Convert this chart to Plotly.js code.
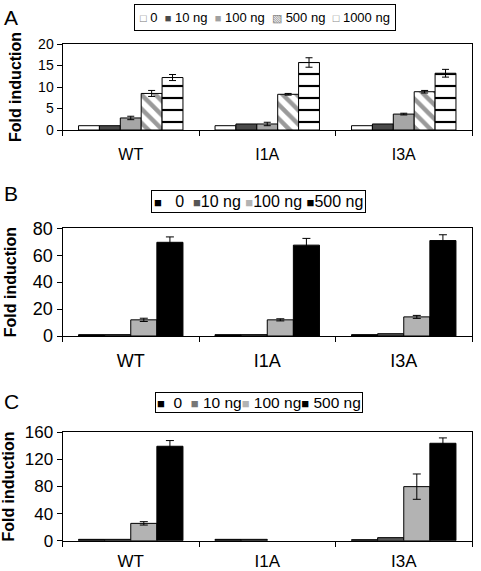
<!DOCTYPE html>
<html>
<head>
<meta charset="utf-8">
<script src="https://cdn.plot.ly/plotly-3.0.1.min.js"></script>
<style>html,body{margin:0;padding:0;background:#fff;}#chart{width:481px;height:571px;}</style>
</head>
<body>
<div id="chart"></div>
<script>
// ---- data ----
const categories = ['WT', 'I1A', 'I3A'];

// Panel A
const dosesA = ['0', '10 ng', '100 ng', '500 ng', '1000 ng'];
const A_0 = [1.0, 1.0, 1.0];
const A_10 = [1.0, 1.4, 1.4];
const A_100 = [2.8, 1.4, 3.7];
const A_100_err = [0.4, 0.4, 0.2];
const A_500 = [8.5, 8.3, 8.9];
const A_500_err = [0.7, 0.2, 0.3];
const A_1000 = [12.2, 15.7, 13.2];
const A_1000_err = [0.7, 1.1, 0.9];

// Panel B
const dosesB = ['0', '10 ng', '100 ng', '500 ng'];
const B_0 = [1.0, 1.0, 1.0];
const B_10 = [1.0, 1.0, 1.7];
const B_100 = [12.0, 12.0, 14.2];
const B_100_err = [1.2, 0.8, 1.1];
const B_500 = [69.6, 67.5, 70.9];
const B_500_err = [4.0, 5.0, 4.3];

// Panel C
const dosesC = ['0', '10 ng', '100 ng', '500 ng'];
const C_0 = [2.0, 2.0, 1.5];
const C_10 = [2.0, 2.0, 4.5];
const C_100 = [25.6, null, 79.8];
const C_100_err = [2.5, null, 18.7];
const C_500 = [139.4, null, 143.8];
const C_500_err = [8.4, null, 7.9];

const FONT = 'Liberation Sans, Arial, sans-serif';
const W = 481, H = 571;

function errY(arr, w) {
  return {type: 'data', array: arr, visible: true, color: '#000', thickness: 1, width: w};
}
function bar(name, y, xa, ya, color, extra) {
  const t = {
    type: 'bar', name: name, x: categories, y: y, xaxis: xa, yaxis: ya,
    showlegend: false,
    marker: {color: color, line: {color: '#000', width: 1}},
    hoverinfo: 'skip'
  };
  return Object.assign(t, extra || {});
}

const traces = [
  // A
  bar(dosesA[0], A_0, 'x', 'y', '#ffffff'),
  bar(dosesA[1], A_10, 'x', 'y', '#4a4a4a'),
  bar(dosesA[2], A_100, 'x', 'y', '#a6a6a6', {error_y: errY(A_100_err, 3.5)}),
  bar(dosesA[3], A_500, 'x', 'y', '#ffffff', {
    marker: {color: '#ffffff', line: {color: '#000', width: 1},
      pattern: {shape: '\\', fgcolor: '#9a9a9a', bgcolor: '#ffffff', size: 10, solidity: 0.45}},
    error_y: errY(A_500_err, 3.5)}),
  bar(dosesA[4], A_1000, 'x', 'y', '#ffffff', {
    marker: {color: '#ffffff', line: {color: '#000', width: 1},
      pattern: {shape: '-', fgcolor: '#000000', bgcolor: '#ffffff', size: 12, solidity: 0.18}},
    error_y: errY(A_1000_err, 3.5)}),
  // B
  bar(dosesB[0], B_0, 'x2', 'y2', '#000000'),
  bar(dosesB[1], B_10, 'x2', 'y2', '#555555'),
  bar(dosesB[2], B_100, 'x2', 'y2', '#b3b3b3', {error_y: errY(B_100_err, 4)}),
  bar(dosesB[3], B_500, 'x2', 'y2', '#000000', {error_y: errY(B_500_err, 4)}),
  // C
  bar(dosesC[0], C_0, 'x3', 'y3', '#000000'),
  bar(dosesC[1], C_10, 'x3', 'y3', '#555555'),
  bar(dosesC[2], C_100, 'x3', 'y3', '#b3b3b3', {error_y: errY(C_100_err, 4)}),
  bar(dosesC[3], C_500, 'x3', 'y3', '#000000', {error_y: errY(C_500_err, 4)})
];

const xDom = [62.5 / W, 472 / W];
function ydom(top, bottom) { return [1 - bottom / H, 1 - top / H]; }

function xaxis(anchor, size, standoff) {
  return {
    domain: xDom, anchor: anchor, type: 'category',
    showline: true, linecolor: '#000', linewidth: 1, mirror: true,
    ticks: 'outside', tickson: 'boundaries', ticklen: 5, tickcolor: '#000',
    ticklabelstandoff: standoff,
    showgrid: false, zeroline: false, fixedrange: true,
    tickfont: {family: FONT, size: size, color: '#000'}
  };
}
function yaxis(anchor, dom, range, dtick, size) {
  return {
    domain: dom, anchor: anchor, range: range, dtick: dtick, tick0: 0,
    showline: true, linecolor: '#000', linewidth: 1, mirror: true,
    ticks: 'outside', ticklen: 5, tickcolor: '#000',
    showgrid: false, zeroline: false, fixedrange: true,
    tickfont: {family: FONT, size: size, color: '#000'},
    title: {text: 'Fold induction', standoff: 12,
      font: {family: FONT, size: 16, color: '#000', weight: 'bold'}}
  };
}

function sq(color, sym, fs) {
  return '<span style="color:' + color + ';font-size:' + (fs || 12) + 'px">' + (sym || '\u25A0') + '</span>';
}
const nb = '\u00a0';
const legA = sq('#777', '\u25A1', 11) + nb + dosesA[0] + nb + ' ' + sq('#4a4a4a', null, 11) + nb + dosesA[1] + nb + ' ' +
  sq('#a0a0a0', null, 11) + nb + dosesA[2] + nb + ' ' + sq('#777', '\u25A7', 11) + nb + dosesA[3] + nb + ' ' +
  sq('#888', '\u25A1', 11) + nb + dosesA[4];
const legB = sq('#000', null, 13) + nb + nb + nb + dosesB[0] + nb + ' ' + sq('#555', null, 13) + dosesB[1] + ' ' +
  sq('#b3b3b3', null, 13) + dosesB[2] + ' ' + sq('#000', null, 13) + dosesB[3];
const legC = sq('#000', null, 13) + nb + nb + dosesC[0] + nb + nb + sq('#777', null, 13) + nb + dosesC[1] +
  sq('#b3b3b3', null, 13) + nb + dosesC[2] + sq('#000', null, 13) + nb + dosesC[3];

function legendAnn(text, cx, cy, fs, pad) {
  return {
    xref: 'paper', yref: 'paper', x: cx / W, y: 1 - cy / H, xanchor: 'center', yanchor: 'middle',
    text: text, showarrow: false, bordercolor: '#000', borderwidth: 1, borderpad: pad, bgcolor: '#fff',
    font: {family: FONT, size: fs, color: '#000'}
  };
}
function letter(t, cy) {
  return {xref: 'paper', yref: 'paper', x: 2 / W, y: 1 - cy / H, xanchor: 'left', yanchor: 'middle',
    text: t, showarrow: false, font: {family: FONT, size: 21, color: '#000'}};
}

const layout = {
  width: W, height: H,
  margin: {l: 0, r: 0, t: 0, b: 0},
  paper_bgcolor: '#fff', plot_bgcolor: '#fff',
  barmode: 'group', bargap: 0.235, bargroupgap: 0,
  showlegend: false,
  font: {family: FONT, color: '#000'},
  xaxis: xaxis('y', 16, 10),
  yaxis: yaxis('x', ydom(44, 130), [0, 20], 5, 14),
  xaxis2: xaxis('y2', 18, 8),
  yaxis2: yaxis('x2', ydom(228.3, 336), [0, 80], 20, 18),
  xaxis3: xaxis('y3', 17, 5),
  yaxis3: yaxis('x3', ydom(432.3, 540.7), [0, 160], 40, 17),
  annotations: [
    letter('A', 17.5), letter('B', 193.5), letter('C', 401.5),
    legendAnn(legA, 264.5, 18, 13, 5),
    legendAnn(legB, 258, 201.5, 16, 2),
    legendAnn(legC, 259, 402, 15.5, 1)
  ]
};

Plotly.newPlot('chart', traces, layout, {displayModeBar: false, staticPlot: true});
</script>
</body>
</html>
